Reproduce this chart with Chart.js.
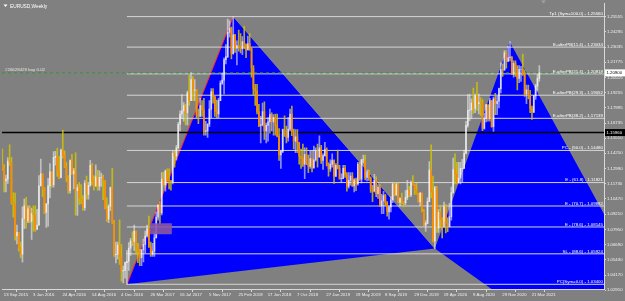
<!DOCTYPE html>
<html><head><meta charset="utf-8">
<script src="https://cdn.jsdelivr.net/npm/chart.js@4.4.1/dist/chart.umd.min.js"></script>
<style>html,body{margin:0;padding:0;background:#808080;overflow:hidden}#wrap{width:625px;height:301px}</style>
</head><body><div id="wrap"><canvas id="c" width="625" height="301"></canvas></div>
<script>
// ---- Weekly EURUSD candles, first week = 13 Sep 2015 (week index 0) ----
const firstOpen = 1.1338;
const highs = [
1.1460,1.1330,1.1245,1.1388,1.1495,1.1390,1.1100,1.1095,1.0830,1.0760,1.0690,1.0982,1.1045,1.1060,1.0990,1.0990,
1.0970,1.0990,1.0990,1.0960,1.1240,1.1376,1.1240,1.1140,1.1010,1.1218,1.1340,1.1270,1.1438,1.1440,1.1465,1.1400,1.1460,1.1616,1.1445,1.1350,1.1240,1.1370,1.1416,1.1300,1.1428,1.1165,1.1185,1.1165,1.1075,1.1198,1.1235,1.1185,1.1366,1.1340,1.1240,1.1328,1.1285,1.1280,1.1260,1.1245,1.1200,1.1055,1.1000,1.1145,1.1300,1.0870,1.0690,1.0690,1.0874,1.0670,1.0490,1.0525,
1.0620,1.0685,1.0720,1.0775,1.0830,1.0780,1.0680,1.0630,1.0630,1.0715,1.0780,1.0830,1.0905,1.0690,1.0680,1.0780,1.0940,1.1000,1.1025,1.1265,1.1268,1.1285,1.1295,1.1296,1.1200,1.1445,1.1440,1.1490,1.1680,1.1775,1.1910,1.1845,1.1830,1.1940,1.2070,1.2092,1.2060,1.2035,1.1950,1.1790,1.1880,1.1860,1.1880,1.1690,1.1670,1.1860,1.1960,1.1960,1.1895,1.1865,1.1880,1.2025,
1.2090,1.2215,1.2325,1.2535,1.2520,1.2470,1.2556,1.2410,1.2355,1.2445,1.2415,1.2390,1.2475,1.2330,1.2395,1.2415,1.2300,1.2150,1.1995,1.1995,1.1830,1.1730,1.1840,1.1850,1.1675,1.1720,1.1790,1.1760,1.1745,1.1750,1.1750,1.1630,1.1445,1.1625,1.1735,1.1650,1.1720,1.1790,1.1815,1.1625,1.1620,1.1620,1.1515,1.1460,1.1500,1.1470,1.1470,1.1410,1.1440,1.1440,1.1485,1.1470,
1.1500,1.1570,1.1490,1.1420,1.1515,1.1470,1.1345,1.1370,1.1420,1.1370,1.1340,1.1450,1.1325,1.1255,1.1325,1.1325,1.1265,1.1265,1.1265,1.1265,1.1215,1.1220,1.1350,1.1350,1.1375,1.1410,1.1410,1.1285,1.1285,1.1230,1.1160,1.1250,1.1230,1.1165,1.1165,1.1085,1.1110,1.1085,1.1025,1.0990,1.1065,1.1180,1.1180,1.1175,1.1180,1.1055,1.1095,1.1025,1.1115,1.1200,1.1150,1.1195,
1.1240,1.1165,1.1175,1.1095,1.1100,1.1095,1.0960,1.0865,1.1055,1.1355,1.1495,1.1235,1.1150,1.1150,1.0960,1.0990,1.0890,1.1020,1.1000,1.0890,1.1010,1.1145,1.1385,1.1420,1.1350,1.1350,1.1350,1.1375,1.1450,1.1690,1.1910,1.1915,1.1875,1.1965,1.1915,1.2011,1.1915,1.1885,1.1870,1.1755,1.1830,1.1810,1.1880,1.1860,1.1890,1.1920,1.1895,1.1965,1.2175,1.2165,1.2275,1.2275,1.2310,
1.2349,1.2225,1.2190,1.2190,1.2150,1.2150,1.2145,1.2245,1.2115,1.1990,1.1990,1.1945,1.1815,1.1905,1.1995,1.2080,1.2150];
const lows = [
1.1284,1.1105,1.1105,1.1175,1.1325,1.1004,1.0895,1.0706,1.0675,1.0615,1.0560,1.0524,1.0800,1.0804,1.0850,1.0850,
1.0711,1.0780,1.0778,1.0810,1.0830,1.1160,1.1065,1.0925,1.0810,1.0822,1.1055,1.1145,1.1145,1.1327,1.1234,1.1215,1.1220,1.1384,1.1305,1.1190,1.1095,1.1095,1.1250,1.1130,1.0912,1.0910,1.1001,1.1005,1.0952,1.0953,1.1045,1.1045,1.1150,1.1160,1.1120,1.1150,1.1120,1.1120,1.1150,1.1040,1.0964,1.0860,1.0850,1.0950,1.0845,1.0570,1.0518,1.0550,1.0505,1.0366,1.0352,1.0390,
1.0340,1.0455,1.0580,1.0660,1.0620,1.0590,1.0520,1.0495,1.0495,1.0525,1.0600,1.0730,1.0645,1.0570,1.0570,1.0570,1.0820,1.0870,1.0840,1.0915,1.1160,1.1110,1.1195,1.1130,1.1120,1.1170,1.1310,1.1370,1.1460,1.1610,1.1710,1.1690,1.1660,1.1660,1.1820,1.1870,1.1860,1.1860,1.1715,1.1670,1.1730,1.1730,1.1575,1.1575,1.1555,1.1645,1.1720,1.1840,1.1730,1.1720,1.1720,1.1860,
1.1995,1.1915,1.2165,1.2215,1.2385,1.2205,1.2245,1.2260,1.2155,1.2270,1.2255,1.2240,1.2290,1.2215,1.2285,1.2275,1.2055,1.1910,1.1820,1.1750,1.1645,1.1510,1.1650,1.1540,1.1510,1.1525,1.1590,1.1610,1.1575,1.1575,1.1560,1.1365,1.1300,1.1430,1.1565,1.1510,1.1525,1.1610,1.1570,1.1460,1.1430,1.1430,1.1335,1.1300,1.1315,1.1215,1.1330,1.1265,1.1300,1.1270,1.1300,1.1360,
1.1310,1.1390,1.1340,1.1290,1.1400,1.1320,1.1235,1.1275,1.1310,1.1175,1.1230,1.1295,1.1210,1.1185,1.1215,1.1225,1.1110,1.1135,1.1160,1.1150,1.1105,1.1115,1.1160,1.1200,1.1180,1.1345,1.1205,1.1195,1.1200,1.1100,1.1025,1.1105,1.1065,1.1050,1.0985,1.0925,1.0925,1.0990,1.0905,1.0879,1.0940,1.1015,1.1075,1.1075,1.1015,1.0990,1.1005,1.0980,1.1000,1.1040,1.1065,1.1065,
1.1160,1.1085,1.1085,1.1020,1.0990,1.0940,1.0825,1.0778,1.0840,1.1055,1.1055,1.0690,1.0636,1.0770,1.0770,1.0810,1.0725,1.0810,1.0765,1.0775,1.0815,1.0870,1.1095,1.1170,1.1170,1.1190,1.1170,1.1185,1.1340,1.1420,1.1640,1.1695,1.1710,1.1755,1.1760,1.1780,1.1750,1.1735,1.1612,1.1625,1.1685,1.1690,1.1690,1.1640,1.1605,1.1745,1.1745,1.1800,1.1925,1.2060,1.2110,1.2130,1.2185,
1.2190,1.2075,1.2055,1.2060,1.1950,1.2010,1.2020,1.2070,1.1895,1.1835,1.1875,1.1760,1.1705,1.1760,1.1870,1.1945,1.2020];
const closes = [
1.1298,1.1195,1.1210,1.1360,1.1350,1.1015,1.1005,1.0740,1.0770,1.0645,1.0590,1.0885,1.0990,1.0865,1.0965,1.0860,
1.0925,1.0915,1.0795,1.0830,1.1155,1.1255,1.1130,1.0935,1.1005,1.1155,1.1270,1.1165,1.1390,1.1400,1.1280,1.1225,1.1450,1.1405,1.1310,1.1225,1.1115,1.1365,1.1255,1.1280,1.1115,1.1140,1.1050,1.1045,1.0975,1.1175,1.1085,1.1160,1.1325,1.1195,1.1155,1.1230,1.1155,1.1225,1.1225,1.1200,1.0970,1.0880,1.0985,1.1140,1.0850,1.0585,1.0590,1.0665,1.0560,1.0450,1.0455,1.0520,
1.0530,1.0640,1.0700,1.0695,1.0780,1.0640,1.0615,1.0560,1.0625,1.0670,1.0740,1.0800,1.0650,1.0590,1.0615,1.0725,1.0895,1.0995,1.0930,1.1210,1.1165,1.1280,1.1200,1.1195,1.1190,1.1425,1.1400,1.1470,1.1665,1.1750,1.1775,1.1820,1.1760,1.1925,1.1860,1.2035,1.1945,1.1950,1.1735,1.1730,1.1820,1.1785,1.1605,1.1610,1.1665,1.1790,1.1935,1.1890,1.1770,1.1750,1.1860,1.2005,
1.2030,1.2200,1.2225,1.2425,1.2460,1.2250,1.2405,1.2295,1.2315,1.2310,1.2290,1.2350,1.2325,1.2280,1.2330,1.2290,1.2130,1.1960,1.1940,1.1770,1.1655,1.1660,1.1770,1.1610,1.1655,1.1685,1.1745,1.1685,1.1720,1.1655,1.1570,1.1410,1.1440,1.1620,1.1605,1.1555,1.1625,1.1750,1.1605,1.1525,1.1560,1.1510,1.1400,1.1385,1.1335,1.1415,1.1335,1.1315,1.1380,1.1305,1.1370,1.1440,
1.1395,1.1470,1.1365,1.1405,1.1455,1.1325,1.1295,1.1335,1.1365,1.1235,1.1325,1.1300,1.1215,1.1215,1.1300,1.1245,1.1150,1.1200,1.1235,1.1155,1.1205,1.1170,1.1335,1.1210,1.1370,1.1370,1.1225,1.1270,1.1220,1.1125,1.1110,1.1200,1.1090,1.1145,1.0990,1.1030,1.1075,1.1015,1.0940,1.0980,1.1040,1.1170,1.1080,1.1165,1.1020,1.1050,1.1020,1.1015,1.1060,1.1120,1.1080,1.1180,
1.1165,1.1120,1.1090,1.1025,1.1095,1.0945,1.0830,1.0845,1.1025,1.1285,1.1105,1.0700,1.1140,1.0805,1.0935,1.0875,1.0820,1.0980,1.0840,1.0820,1.0900,1.1100,1.1290,1.1255,1.1180,1.1220,1.1300,1.1300,1.1425,1.1655,1.1780,1.1785,1.1840,1.1795,1.1900,1.1835,1.1845,1.1840,1.1630,1.1715,1.1825,1.1715,1.1860,1.1645,1.1875,1.1835,1.1855,1.1960,1.2120,1.2115,1.2255,1.2185,1.2215,
1.2220,1.2080,1.2170,1.2135,1.2045,1.2120,1.2120,1.2075,1.1915,1.1950,1.1905,1.1795,1.1765,1.1900,1.1980,1.2045,1.2090];

// ---- Time axis labels (every 16 weeks) ----
const dateTickWeeks = [0,16,32,48,64,80,96,112,128,144,160,176,192,208,224,240,256,272,288];
const dateTickLabels = ["13 Sep 2015","3 Jan 2016","24 Apr 2016","14 Aug 2016","4 Dec 2016","26 Mar 2017","16 Jul 2017","5 Nov 2017","25 Feb 2018","17 Jun 2018","7 Oct 2018","27 Jan 2019","19 May 2019","8 Sep 2019","29 Dec 2019","19 Apr 2020","9 Aug 2020","29 Nov 2020","21 Mar 2021"];

// ---- Price axis labels ----
const priceTicks = [1.25555,1.24295,1.23035,1.21775,1.20515,1.19255,1.17995,1.16735,1.15510,1.14250,1.12990,1.11730,1.10470,1.09210,1.07950,1.06690,1.05430,1.04170,1.02910];

// ---- Pattern points (week index, price) X A B C D ----
const patWeeks  = [68, 126, 236, 277, 405];
const patPrices = [1.0340, 1.2556, 1.0636, 1.2349, 0.8803];

// ---- Fibonacci / projection levels ----
const fibNames  = ["Tp1 (Sym=100.0)","E-afterPB(11.4)","E-afterPB(21.4)","E-afterPB(29.3)","E-afterPB(38.2)","PC - (50.0)","E - (61.8)","E - (70.7)","E - (78.6)","SL - (88.6)","PC(Sym=0.0)"];
const fibValues = [1.25560,1.23034,1.20818,1.19052,1.17139,1.14480,1.11821,1.09882,1.08145,1.05924,1.03400];
const fibStartWeek = 68;

// ---- Other objects ----
const boxWeeks  = [80.5, 92.5];
const boxPrices = [1.0755, 1.0846];
const hLinePrice = 1.15960;
const orderPrice = 1.20900;
const orderText = "#26628429 buy 0.02";
const titleText = "EURUSD,Weekly";

// ---- scale extents ----
const xMin = -0.16, xMax = 328.3;
const yMin = 1.03012, yMax = 1.26636;

// build library data
const opens = closes.map((c,i)=> i===0 ? firstOpen : closes[i-1]);
const wickData = closes.map((c,i)=>({x:i, y:[Math.min(lows[i],opens[i],c), Math.max(highs[i],opens[i],c)]}));
const bodyData = closes.map((c,i)=>({x:i, y:[opens[i], c]}));
const isBull = i => closes[i] >= opens[i];
const pt = k => ({x:patWeeks[k], y:patPrices[k]});

const tri1 = [0,1,2,0].map(pt);
const tri2 = [2,3,4,2].map(pt);
const rect = [[0,0],[1,0],[1,1],[0,1],[0,0]].map(([a,b])=>({x:boxWeeks[a], y:boxPrices[b]}));

const FONT = '"Liberation Sans", Arial, sans-serif';
const datasets = [];
datasets.push({type:'line', data:tri1, order:20, fill:'shape', backgroundColor:'#0000ff', borderWidth:0, borderColor:'rgba(0,0,0,0)', pointRadius:0, tension:0});
datasets.push({type:'line', data:tri2, order:19, fill:'shape', backgroundColor:'#0000ff', borderWidth:0, borderColor:'rgba(0,0,0,0)', pointRadius:0, tension:0});
datasets.push({type:'line', data:[pt(0),pt(1)], order:18, fill:false, borderColor:'#ff2a2a', borderWidth:1, pointRadius:0});
datasets.push({type:'line', data:[pt(1),pt(2)], order:18, fill:false, borderColor:'rgba(190,180,90,0.55)', borderWidth:1, pointRadius:0});
datasets.push({type:'line', data:[pt(3),pt(4)], order:18, fill:false, borderColor:'rgba(190,180,90,0.45)', borderWidth:1, pointRadius:0});
fibValues.forEach((v,k)=>{
  datasets.push({type:'line', data:[{x:fibStartWeek,y:v},{x:xMax,y:v}], order:15, borderColor:'#d4d4d4', borderWidth:1, pointRadius:0, fill:false});
});
datasets.push({type:'line', data:[{x:xMin,y:hLinePrice},{x:xMax,y:hLinePrice}], order:14, borderColor:'#000000', borderWidth:1.6, pointRadius:0, fill:false});
datasets.push({type:'line', data:[{x:xMin,y:orderPrice},{x:xMax,y:orderPrice}], order:13, borderColor:'#2f9a2f', borderWidth:1, borderDash:[3,3], pointRadius:0, fill:false});
datasets.push({type:'bar', data:wickData, order:3, grouped:false, barThickness:1, borderWidth:0,
  backgroundColor: c => isBull(c.dataIndex) ? 'rgba(235,235,235,0.6)' : 'rgba(210,194,0,0.85)'});
datasets.push({type:'bar', data:bodyData, order:2, grouped:false, barThickness:1, borderWidth:0,
  backgroundColor: c => isBull(c.dataIndex) ? 'rgba(255,255,255,0.65)' : '#ff8a00'});
datasets.push({type:'line', data:rect, order:0, fill:'shape', backgroundColor:'rgba(140,88,158,0.9)', borderWidth:0, borderColor:'rgba(0,0,0,0)', pointRadius:0});

const bgPlugin = {id:'bg', beforeDraw(ch){const g=ch.ctx; g.save(); g.fillStyle='#808080'; g.fillRect(0,0,ch.width,ch.height); g.restore();}};
const textPlugin = {id:'txt', afterDraw(ch){
  const g = ch.ctx, ys = ch.scales.y, a = ch.chartArea;
  g.save();
  g.font = '4.4px ' + FONT; g.textAlign='right'; g.textBaseline='alphabetic'; g.fillStyle='#ffffff';
  fibValues.forEach((v,k)=>{ const y = ys.getPixelForValue(v); g.fillText(fibNames[k]+' - '+v.toFixed(5), a.right-1, y-1.2); });
  g.textAlign='left'; g.fillStyle='#e6e6e6';
  g.fillText(orderText, a.left+3, ys.getPixelForValue(orderPrice)-1.5);
  g.font = '4.8px ' + FONT; g.fillStyle='#ffffff';
  g.fillText(titleText, 10, 8);
  g.beginPath(); g.moveTo(3.5,4.5); g.lineTo(7.5,4.5); g.lineTo(5.5,7); g.closePath(); g.fill();
  const boxes = [[closes[closes.length-1], '#ffffff', '#000000'], [hLinePrice, '#000000', '#ffffff']];
  g.font = '4.3px ' + FONT; g.textBaseline='middle';
  boxes.forEach(([v,bg,fg])=>{ const y = ys.getPixelForValue(v); g.fillStyle=bg; g.fillRect(a.right+1, y-3.5, 20, 7); g.fillStyle=fg; g.fillText(v.toFixed(5), a.right+2.5, y+0.3); });
  g.fillStyle='#a0a0a0'; g.beginPath(); g.moveTo(541,0.5); g.lineTo(546,0.5); g.lineTo(543.5,3.5); g.closePath(); g.fill();
  g.restore();
}};

new Chart(document.getElementById('c'), {
  type:'bar',
  data:{datasets},
  options:{
    responsive:false, animation:false, events:[], devicePixelRatio:1,
    layout:{padding:{left:2, top:3, right:0, bottom:0}},
    plugins:{legend:{display:false}, tooltip:{enabled:false}},
    scales:{
      x:{type:'linear', min:xMin, max:xMax, offset:false, position:'bottom',
        afterFit:s=>{s.height=12;},
        afterBuildTicks:s=>{s.ticks=dateTickWeeks.map(v=>({value:v}));},
        ticks:{autoSkip:false, maxRotation:0, minRotation:0, align:'start', labelOffset:1.5, padding:0, color:'#f0f0f0', font:{size:4.3, family:FONT},
          callback:v=>dateTickLabels[dateTickWeeks.indexOf(v)]},
        grid:{display:true, drawOnChartArea:false, drawTicks:true, tickLength:3, color:'#d8d8d8'},
        border:{display:true, color:'#d8d8d8', width:1}},
      y:{type:'linear', position:'right', min:yMin, max:yMax,
        afterFit:s=>{s.width=21;},
        afterBuildTicks:s=>{s.ticks=priceTicks.map(v=>({value:v}));},
        ticks:{autoSkip:false, padding:1, color:'#f0f0f0', font:{size:4.3, family:FONT}, callback:v=>v.toFixed(5)},
        grid:{display:true, drawOnChartArea:false, drawTicks:true, tickLength:2, color:'#d8d8d8'},
        border:{display:true, color:'#d8d8d8', width:1}}
    }
  },
  plugins:[bgPlugin, textPlugin]
});
</script></body></html>
